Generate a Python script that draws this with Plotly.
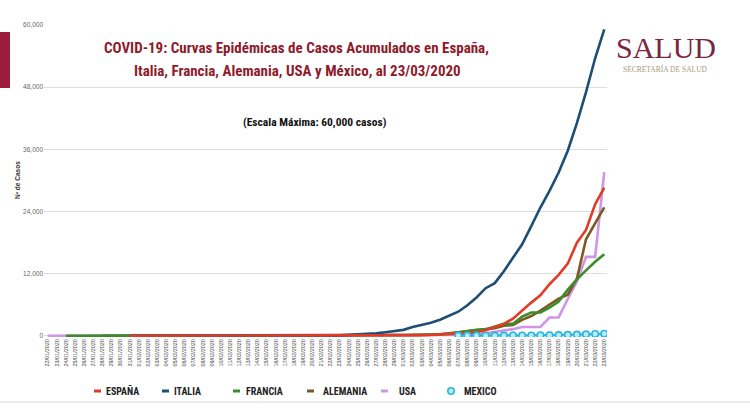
import datetime as dt
import plotly.graph_objects as go

# ---------------- data ----------------
start = dt.date(2020, 1, 22)
dates = [(start + dt.timedelta(days=i)).strftime("%d/%m/%Y") for i in range(62)]

N = None
espana = [N]*9 + [1]*25 + [2, 6, 13, 15, 32, 45, 84, 120, 165, 222, 259, 400, 500, 673, 1073,
         1695, 2277, 3300, 4900, 6391, 7798, 9942, 11748, 13910, 17963, 20410, 25374, 28603]
italia = [N]*9 + [2]*8 + [3]*14 + [20, 62, 155, 229, 322, 453, 655, 888, 1128, 1694, 2036, 2502,
         3089, 3858, 4636, 5883, 7375, 9172, 10149, 12462, 15113, 17660, 21157, 24747, 27980,
         31506, 35713, 41035, 47021, 53578, 59138]
francia = [N]*2 + [2, 3, 3, 3, 4, 5, 5, 5] + [6]*7 + [11]*6 + [12]*12 + [14, 18, 38, 57, 100, 130,
          191, 204, 288, 380, 656, 957, 1134, 1217, 1792, 2289, 2289, 3672, 4480, 4513, 5400,
          6600, 8900, 10871, 12612, 14282, 15750]
alemania = [N]*6 + [1, 4, 4, 4, 5, 8, 10, 12, 12, 12, 12, 13, 13, 14, 14] + [16]*14 + [17, 27, 46,
           48, 79, 130, 159, 196, 262, 482, 670, 799, 1040, 1176, 1457, 1908, 2078, 3062, 3795,
           4838, 6012, 7156, 7935, 10999, 18610, 21800, 24800]
usa = [1, 1, 2, 2, 5, 5, 5, 5, 5, 6, 7, 8, 8, 11, 11, 11, 12, 12, 12, 12, 13, 13, 13, 13, 13, 13,
       13, 13, 13, 15, 15, 15, 15, 35, 35, 35, 53, 59, 60, 62, 62, 64, 108, 129, 148, 213, 213,
       213, 472, 696, 987, 1264, 1678, 1678, 1678, 3503, 3536, 7087, 10442, 15219, 15219, 31573]
mexico = [N]*45 + [7, 7, 7, 7, 11, 12, 26, 41, 53, 82, 93, 118, 164, 203, 251, 316, 367]

y_ticks = [0, 12000, 24000, 36000, 48000, 60000]

COL = {"ESPAÑA": "#e23b27", "ITALIA": "#1d4e74", "FRANCIA": "#3b8c2a",
       "ALEMANIA": "#7c5a22", "USA": "#cf96e6", "MEXICO": "#2cb6dc"}

series = [  # drawn bottom -> top
    ("USA", usa),
    ("ALEMANIA", alemania),
    ("FRANCIA", francia),
    ("ITALIA", italia),
    ("ESPAÑA", espana),
]

NARROW = "Liberation Sans Narrow, Arial Narrow, Roboto Condensed, Liberation Sans, Arial"

fig = go.Figure()
for name, vals in series:
    fig.add_trace(go.Scatter(
        x=dates, y=vals, name=name, mode="lines",
        line=dict(color=COL[name], width=2.6), connectgaps=False, showlegend=False,
    ))
fig.add_trace(go.Scatter(
    x=dates, y=mexico, name="MEXICO", mode="lines+markers",
    line=dict(color=COL["MEXICO"], width=2),
    marker=dict(symbol="circle", size=6.5, color="#b5ecfa", line=dict(color=COL["MEXICO"], width=1.6)),
    showlegend=False,
))

L, R, T, B = 44, 143, 25, 75
PW, PH = 750 - L - R, 412 - T - B
Y0 = 336  # pixel row of y = 0


def px(xpix):
    return (xpix - L) / PW


def py(ypix):
    return (412 - B - ypix) / PH


fig.update_layout(
    width=750, height=412,
    margin=dict(l=L, r=R, t=T, b=B, autoexpand=False),
    paper_bgcolor="#ffffff", plot_bgcolor="#ffffff",
    showlegend=False,
    xaxis=dict(
        type="category", range=[-0.4, 61.3], showgrid=False, zeroline=False,
        tickangle=-90, tickfont=dict(family="Liberation Sans, Arial", size=5.5, color="#444444"),
        ticks="", showline=False, automargin=False,
    ),
    yaxis=dict(
        range=[-250, 60000], tickvals=y_ticks, tickformat=",",
        showgrid=True, gridcolor="#dddddd", gridwidth=1, zeroline=False,
        tickfont=dict(family="Liberation Sans, Arial", size=6.5, color="#666666"),
        ticks="", showline=False, automargin=False,
    ),
    font=dict(family="Liberation Sans, Arial"),
)

ann = [
    dict(text="<b>COVID-19: Curvas Epidémicas de Casos Acumulados en España,</b>", x=px(296), y=py(48),
         font=dict(family=NARROW, size=15, color="#8e1b2c")),
    dict(text="<b>Italia, Francia, Alemania, USA y México, al 23/03/2020</b>", x=px(297), y=py(71),
         font=dict(family=NARROW, size=15, color="#8e1b2c")),
    dict(text="<b>(Escala Máxima: 60,000 casos)</b>", x=px(315), y=py(122),
         font=dict(family=NARROW, size=11.5, color="#111111")),
    dict(text="<b>Nº de Casos</b>", x=px(17), y=py(180), textangle=-90,
         font=dict(family="Liberation Sans, Arial", size=6.5, color="#333333")),
    dict(text="SALUD", x=px(666), y=py(48),
         font=dict(family="Liberation Serif, DejaVu Serif, serif", size=30, color="#7b2443")),
    dict(text="SECRETARÍA DE SALUD", x=px(665), y=py(69),
         font=dict(family="Liberation Serif, DejaVu Serif, serif", size=7.5, color="#a8977a")),
]
for a in ann:
    a.update(xref="paper", yref="paper", showarrow=False, xanchor="center", yanchor="middle")
    fig.add_annotation(**a)

# legend (key + label) below the axis
legend_items = [("ESPAÑA", 94, 104), ("ITALIA", 162, 172), ("FRANCIA", 233, 244),
                ("ALEMANIA", 307, 321), ("USA", 381, 397), ("MEXICO", 451, 462)]
LY = 391
for name, kx, tx in legend_items:
    if name == "MEXICO":
        fig.add_shape(type="circle", xref="paper", yref="paper",
                      x0=px(kx - 3.2), x1=px(kx + 3.2), y0=py(LY + 3.2), y1=py(LY - 3.2),
                      fillcolor="#b5ecfa", line=dict(color=COL[name], width=1.6))
    else:
        fig.add_shape(type="line", xref="paper", yref="paper",
                      x0=px(kx), x1=px(kx + 7), y0=py(LY), y1=py(LY),
                      line=dict(color=COL[name], width=3))
    fig.add_annotation(text="<b>%s</b>" % name, xref="paper", yref="paper", x=px(tx), y=py(LY),
                       xanchor="left", yanchor="middle", showarrow=False,
                       font=dict(family=NARROW, size=10, color="#222222"))

fig.add_shape(type="rect", xref="paper", yref="paper", x0=px(0), x1=px(10), y0=py(88), y1=py(32),
              fillcolor="#9c1c3e", line=dict(width=0), layer="above")
fig.add_shape(type="line", xref="paper", yref="paper", x0=px(0), x1=px(750), y0=py(402), y1=py(402),
              line=dict(color="#e6e6e6", width=1.5))

fig.write_html("out.html", config={"displayModeBar": False},
               post_script="document.body.style.margin='0';")
